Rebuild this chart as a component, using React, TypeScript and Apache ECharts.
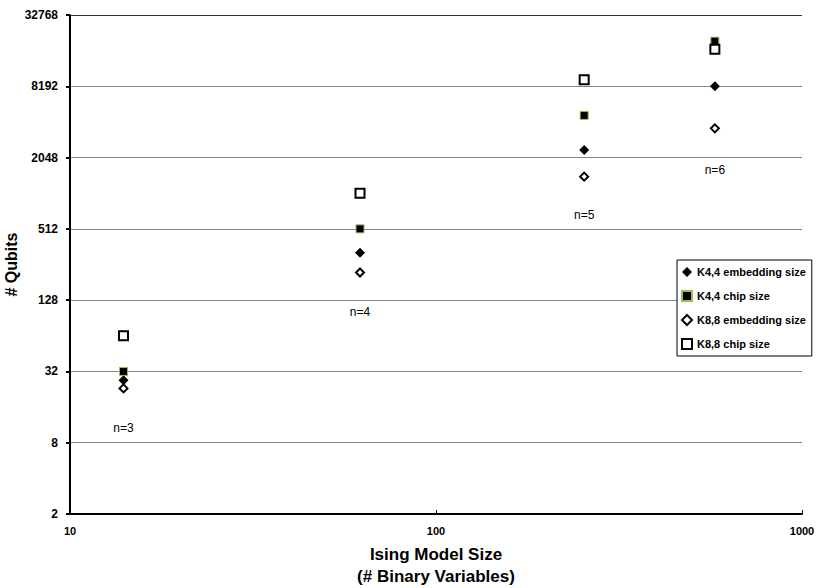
import React, { useEffect, useRef } from "react";
import * as echarts from "echarts";

const isingSizes = [14, 62, 254, 578];
const k44Embedding = [27, 322, 2372, 8192];
const k44Chip = [32, 512, 4650, 19700];
const k88Embedding = [23, 219, 1413, 3615];
const k88Chip = [64, 1024, 9300, 16800];
const nLabels = ["n=3", "n=4", "n=5", "n=6"];
const nLabelY = [10.7, 102, 666, 1600];
const seriesNames = ["K4,4 embedding size", "K4,4 chip size", "K8,8 embedding size", "K8,8 chip size"];

const FONT = "'Liberation Sans', Arial, sans-serif";

export default function App() {
  const ref = useRef<HTMLDivElement>(null);
  useEffect(() => {
    if (!ref.current) return;
    const chart = echarts.init(ref.current, undefined, { renderer: "svg" });
    const pts = (vals: number[]) => isingSizes.map((x, i) => [x, vals[i]]);
    chart.setOption({
      animation: false,
      backgroundColor: "#ffffff",
      grid: { left: 70, right: 16, top: 15, bottom: 74, containLabel: false, outerBoundsMode: "none" },
      legend: {
        data: seriesNames,
        orient: "vertical",
        left: 677,
        top: 260,
        padding: [5, 6, 5, 4],
        itemGap: 10,
        itemWidth: 10,
        itemHeight: 10,
        borderColor: "#000",
        borderWidth: 1,
        borderRadius: 0,
        backgroundColor: "#fff",
        textStyle: { fontFamily: FONT, fontWeight: "bold", fontSize: 11, color: "#000", lineHeight: 14 },
      },
      xAxis: {
        type: "log",
        logBase: 10,
        min: 10,
        max: 1000,
        name: "Ising Model Size\n(# Binary Variables)",
        nameLocation: "middle",
        nameGap: 29,
        nameMoveOverlap: false,
        nameTextStyle: { fontFamily: FONT, fontWeight: "bold", fontSize: 17, color: "#000", lineHeight: 22 },
        axisLine: { lineStyle: { color: "#000", width: 2 } },
        axisTick: { show: true, inside: true, length: 4, lineStyle: { color: "#000", width: 1 } },
        minorTick: { show: false },
        axisLabel: {
          fontFamily: FONT,
          fontWeight: "bold",
          fontSize: 11,
          color: "#000",
          margin: 11,
          formatter: (v: number) => String(Math.round(v)),
        },
        splitLine: { show: false },
      },
      yAxis: {
        type: "log",
        logBase: 2,
        min: 2,
        max: 32768,
        interval: 2,
        name: "# Qubits",
        nameLocation: "middle",
        nameGap: 51,
        nameMoveOverlap: false,
        nameTextStyle: { fontFamily: FONT, fontWeight: "bold", fontSize: 16, color: "#000" },
        axisLine: { lineStyle: { color: "#000", width: 2 } },
        axisTick: { show: true, inside: false, length: 4, lineStyle: { color: "#000", width: 2 } },
        axisLabel: {
          fontFamily: FONT,
          fontWeight: "bold",
          fontSize: 12,
          color: "#000",
          margin: 12,
          formatter: (v: number) => String(Math.round(v)),
        },
        splitLine: {
          show: true,
          lineStyle: {
            color: ["#868686", "#868686", "#868686", "#868686", "#868686", "#868686", "#868686", "#333333"],
            width: 1,
          },
        },
      },
      series: [
        {
          name: seriesNames[0],
          type: "scatter",
          symbol: "diamond",
          symbolSize: 10,
          itemStyle: { color: "#000", borderColor: "#000", borderWidth: 0, opacity: 1 },
          data: pts(k44Embedding),
        },
        {
          name: seriesNames[1],
          type: "scatter",
          symbol: "rect",
          symbolSize: 8,
          itemStyle: { color: "#000", borderColor: "#9BBB59", borderWidth: 1, opacity: 1 },
          data: pts(k44Chip),
        },
        {
          name: seriesNames[2],
          type: "scatter",
          symbol: "diamond",
          symbolSize: 8,
          itemStyle: { color: "#fff", borderColor: "#000", borderWidth: 2, opacity: 1 },
          data: pts(k88Embedding),
        },
        {
          name: seriesNames[3],
          type: "scatter",
          symbol: "rect",
          symbolSize: 9,
          itemStyle: { color: "#fff", borderColor: "#000", borderWidth: 2, opacity: 1 },
          data: pts(k88Chip),
        },
        {
          name: "labels",
          type: "scatter",
          symbol: "circle",
          symbolSize: 1,
          silent: true,
          itemStyle: { color: "#000", opacity: 0 },
          label: {
            show: true,
            position: "inside",
            formatter: (p: any) => p.name,
            fontFamily: FONT,
            fontSize: 12,
            color: "#000",
            opacity: 1,
          },
          data: isingSizes.map((x, i) => ({ name: nLabels[i], value: [x, nLabelY[i]] })),
        },
      ],
    });
    return () => chart.dispose();
  }, []);
  return <div ref={ref} style={{ width: 818, height: 588, position: "absolute", left: 0, top: 0 }} />;
}
